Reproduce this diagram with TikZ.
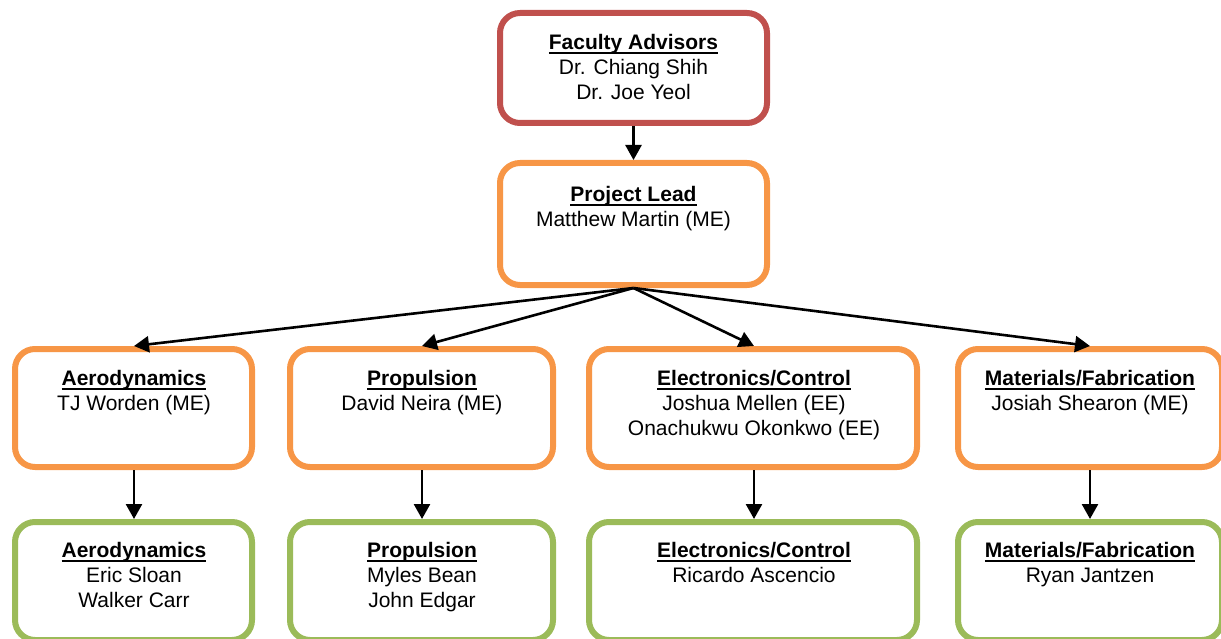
\documentclass[tikz,border=0pt]{standalone}
\usepackage{fontspec}
\setmainfont{Liberation Sans}
\usetikzlibrary{arrows.meta}
\definecolor{cred}{HTML}{C0504D}
\definecolor{corange}{HTML}{F79646}
\definecolor{cgreen}{HTML}{9BBB59}
\newcommand\ttlx[1]{\setbox0\hbox{\textbf{#1}}\rlap{\rule[-4pt]{\wd0}{2pt}}\box0}
\tikzset{
  orgbox/.style={draw, line width=6pt, rounded corners=20pt, fill=white, inner sep=0pt},
  redbox/.style={orgbox, draw=cred},
  orbox/.style={orgbox, draw=corange},
  grbox/.style={orgbox, draw=cgreen},
  txt/.style={anchor=north, inner sep=0pt, align=center, font=\fontsize{21}{25}\selectfont},
  conn/.style={line width=2.6pt, -{Triangle[length=15pt,width=16pt]}}
}
\begin{document}
\begin{tikzpicture}[x=1pt,y=-1pt]
\useasboundingbox (0,0) rectangle (1221,639);
% boxes
\node[redbox, minimum width=267pt, minimum height=110pt] (fa) at (633.5,68) {};
\node[orbox, minimum width=267pt, minimum height=122pt] (pl) at (633.5,224) {};
\node[orbox, minimum width=237pt, minimum height=118pt] (ae) at (133.5,408) {};
\node[orbox, minimum width=263pt, minimum height=118pt] (pr) at (421.5,408) {};
\node[orbox, minimum width=328pt, minimum height=118pt] (el) at (753,408) {};
\node[orbox, minimum width=264pt, minimum height=118pt] (ma) at (1090,408) {};
\node[grbox, minimum width=237pt, minimum height=118pt] (ae2) at (133.5,581) {};
\node[grbox, minimum width=263pt, minimum height=118pt] (pr2) at (421.5,581) {};
\node[grbox, minimum width=328pt, minimum height=118pt] (el2) at (753,581) {};
\node[grbox, minimum width=264pt, minimum height=118pt] (ma2) at (1090,581) {};
% texts
\node[txt] (fat) at (633.5,34.5) {\ttlx{Faculty Advisors}\\Dr. Chiang Shih\\Dr. Joe Yeol};
\node[txt] (plt) at (633.5,186.5) {\ttlx{Project Lead}\\Matthew Martin (ME)};
\node[txt] (aet) at (134,370.5) {\ttlx{Aerodynamics}\\TJ Worden (ME)};
\node[txt] (prt) at (422,370.5) {\ttlx{Propulsion}\\David Neira (ME)};
\node[txt] (elt) at (754,370.5) {\ttlx{Electronics/Control}\\Joshua Mellen (EE)\\Onachukwu Okonkwo (EE)};
\node[txt] (mat) at (1090,370.5) {\ttlx{Materials/Fabrication}\\Josiah Shearon (ME)};
\node[txt] (ae2t) at (134,542.5) {\ttlx{Aerodynamics}\\Eric Sloan\\Walker Carr};
\node[txt] (pr2t) at (422,542.5) {\ttlx{Propulsion}\\Myles Bean\\John Edgar};
\node[txt] (el2t) at (754,542.5) {\ttlx{Electronics/Control}\\Ricardo Ascencio};
\node[txt] (ma2t) at (1090,542.5) {\ttlx{Materials/Fabrication}\\Ryan Jantzen};
% connectors
\draw[conn] (fa.south) -- (pl.north);
\draw[conn] (pl.south) -- ([xshift=0.5pt]ae.north);
\draw[conn] (pl.south) -- ([xshift=0.5pt]pr.north);
\draw[conn] (pl.south) -- ([xshift=1pt]el.north);
\draw[conn] (pl.south) -- (ma.north);
\draw[conn] ([xshift=0.5pt]ae.south) -- ([xshift=0.5pt]ae2.north);
\draw[conn] ([xshift=0.5pt]pr.south) -- ([xshift=0.5pt]pr2.north);
\draw[conn] ([xshift=1pt]el.south) -- ([xshift=1pt]el2.north);
\draw[conn] (ma.south) -- (ma2.north);
\end{tikzpicture}
\end{document}
